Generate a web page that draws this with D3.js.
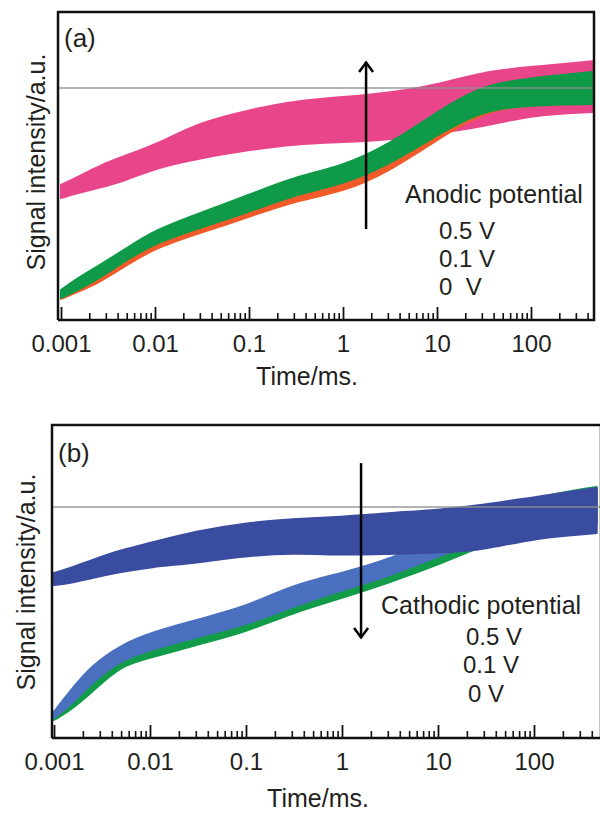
<!DOCTYPE html>
<html>
<head>
<meta charset="utf-8">
<script src="https://cdn.jsdelivr.net/npm/d3@7"></script>
<style>
  body { margin: 0; background: #fff; }
  svg text { font-family: "Liberation Sans", Arial, sans-serif; fill: #231f20; }
</style>
</head>
<body>
<svg id="chart" width="600" height="813"></svg>
<script>
// time grid (ms) shared by all traces, values in a.u. (gray line = 1)
var times = [0.001, 0.0015, 0.0025, 0.005, 0.01, 0.03, 0.1, 0.3, 1, 3, 10, 30, 100, 450];

// panel (a) anodic potential: upper / lower envelope of the noisy traces
var a05Upper = [0.582, 0.616, 0.664, 0.711, 0.754, 0.853, 0.905, 0.944, 0.961, 0.978, 1.013, 1.069, 1.091, 1.116];
var a05Lower = [0.526, 0.547, 0.569, 0.603, 0.655, 0.698, 0.733, 0.759, 0.767, 0.776, 0.806, 0.832, 0.884, 0.897];
var a01Upper = [0.129, 0.181, 0.233, 0.310, 0.388, 0.461, 0.539, 0.616, 0.664, 0.754, 0.897, 1.013, 1.043, 1.069];
var a01Lower = [0.095, 0.129, 0.177, 0.259, 0.332, 0.397, 0.466, 0.539, 0.586, 0.668, 0.797, 0.905, 0.927, 0.931];
var a0Upper  = [0.121, 0.164, 0.216, 0.293, 0.366, 0.440, 0.517, 0.586, 0.625, 0.711, 0.853, 0.983, 1.026, 1.052];
var a0Lower  = [0.091, 0.121, 0.159, 0.237, 0.310, 0.375, 0.444, 0.513, 0.552, 0.638, 0.776, 0.897, 0.931, 0.931];

// panel (b) cathodic potential
var b05Upper = [0.714, 0.736, 0.771, 0.814, 0.844, 0.896, 0.931, 0.948, 0.957, 0.974, 0.987, 1.009, 1.043, 1.082];
var b05Lower = [0.662, 0.671, 0.693, 0.719, 0.740, 0.758, 0.788, 0.801, 0.792, 0.797, 0.801, 0.814, 0.866, 0.887];
var b01Upper = [0.113, 0.208, 0.316, 0.403, 0.455, 0.511, 0.567, 0.662, 0.714, 0.771, 0.866, 0.944, 1.030, 1.074];
var b01Lower = [0.087, 0.143, 0.242, 0.338, 0.381, 0.437, 0.489, 0.567, 0.641, 0.697, 0.788, 0.857, 0.909, 0.926];
var b0Upper  = [0.113, 0.186, 0.260, 0.372, 0.411, 0.468, 0.519, 0.619, 0.662, 0.736, 0.835, 0.952, 1.043, 1.087];
var b0Lower  = [0.078, 0.121, 0.199, 0.316, 0.346, 0.403, 0.459, 0.541, 0.606, 0.671, 0.749, 0.835, 0.909, 0.935];

var tickValues = [0.001, 0.01, 0.1, 1, 10, 100];
var tickLabels = ["0.001", "0.01", "0.1", "1", "10", "100"];

var svg = d3.select("#chart");

function make_series(upper, lower, color){
    return { color: color, data: times.map(function(t, i){ return {t: t, hi: upper[i], lo: lower[i]}; }) };
}

function draw_panel(p){
    var g = svg.append("g");
    var x = d3.scaleLog().domain([0.001, p.tmax]).range([p.x0, p.right]);
    var y = d3.scaleLinear().domain([0, p.ymax]).range([p.bottom, p.top]);

    var clipId = "clip_" + p.name;
    g.append("clipPath").attr("id", clipId)
        .append("rect")
        .attr("x", p.left).attr("y", p.top)
        .attr("width", p.right - p.left).attr("height", p.bottom - p.top);

    var area = d3.area()
        .x(function(d){ return x(d.t); })
        .y0(function(d){ return y(d.lo); })
        .y1(function(d){ return y(d.hi); })
        .curve(d3.curveBasis);

    var dg = g.append("g").attr("clip-path", "url(#" + clipId + ")");
    p.series.forEach(function(s){
        dg.append("path")
            .datum(s.data)
            .attr("d", area)
            .attr("fill", s.color)
            .attr("stroke", s.color)
            .attr("stroke-width", 2)
            .attr("stroke-linejoin", "round");
    });

    // reference line at 1
    g.append("line")
        .attr("x1", p.left).attr("x2", p.right)
        .attr("y1", y(1)).attr("y2", y(1))
        .attr("stroke", "#8f8f8f").attr("stroke-width", 1.5).attr("opacity", 0.9);

    // minor ticks
    var minor = x.ticks().filter(function(d){
        return tickValues.indexOf(d) < 0 && x(d) < p.right - 2;
    });
    var mg = g.append("g")
        .attr("transform", "translate(0," + p.bottom + ")")
        .call(d3.axisBottom(x).tickValues(minor).tickSize(-7).tickSizeOuter(0).tickFormat(""));
    mg.select(".domain").remove();
    mg.selectAll("line").attr("stroke", "#111").attr("stroke-width", 1.6);

    // major ticks with labels
    var ag = g.append("g")
        .attr("transform", "translate(0," + p.bottom + ")")
        .call(d3.axisBottom(x).tickValues(tickValues).tickSize(-13).tickSizeOuter(0).tickPadding(15)
              .tickFormat(function(d, i){ return tickLabels[i]; }));
    ag.select(".domain").remove();
    ag.selectAll("line").attr("stroke", "#111").attr("stroke-width", 1.8);
    ag.selectAll("text")
        .attr("font-size", "24px")
        .attr("font-family", "'Liberation Sans', Arial, sans-serif")
        .attr("fill", "#231f20");

    // frame
    g.append("path")
        .attr("d", "M" + p.left + "," + p.bottom + "V" + p.top + "H" + p.frameRight + "V" + p.bottom + "H" + p.left)
        .attr("fill", "none").attr("stroke", "#111").attr("stroke-width", 2.5);

    // arrow
    var ax = x(p.arrow.t), ya = y(p.arrow.from), yb = y(p.arrow.to);
    var dir = yb < ya ? 1 : -1;
    g.append("line")
        .attr("x1", ax).attr("x2", ax).attr("y1", ya).attr("y2", yb)
        .attr("stroke", "#000").attr("stroke-width", 2.5);
    g.append("path")
        .attr("d", "M" + (ax - 7) + "," + (yb + dir * 10) + "L" + ax + "," + (yb + dir * 0.5) + "L" + (ax + 7) + "," + (yb + dir * 10))
        .attr("fill", "none").attr("stroke", "#000").attr("stroke-width", 2.5);

    // panel label
    g.append("text").attr("x", p.labelX).attr("y", p.labelY)
        .attr("font-size", "26px").text(p.label);

    // axis titles
    g.append("text")
        .attr("x", p.xTitle[0]).attr("y", p.xTitle[1])
        .attr("text-anchor", "middle").attr("font-size", "25px")
        .text("Time/ms.");
    g.append("text")
        .attr("transform", "translate(" + p.yTitle[0] + "," + p.yTitle[1] + ") rotate(-90)")
        .attr("text-anchor", "middle").attr("font-size", "25px")
        .text("Signal intensity/a.u.");

    // legend
    p.legend.forEach(function(l){
        g.append("text").attr("x", l[0]).attr("y", l[1])
            .attr("font-size", l[3]).style("white-space", "pre")
            .text(l[2]);
    });
}

draw_panel({
    name: "a", label: "(a)", labelX: 64, labelY: 47,
    left: 58, frameRight: 594, top: 12, bottom: 320,
    x0: 61, right: 594, tmax: 468, ymax: 1.328,
    series: [
        make_series(a05Upper, a05Lower, "#e8458b"),
        make_series(a0Upper, a0Lower, "#f15a29"),
        make_series(a01Upper, a01Lower, "#0e9a48")
    ],
    arrow: {t: 1.76, from: 0.392, to: 1.112},
    xTitle: [307, 385], yTitle: [45, 162],
    legend: [[405, 203, "Anodic potential", "25px"], [439, 239, "0.5 V", "24px"],
             [439, 267, "0.1 V", "24px"], [439, 295, "0  V", "24px"]]
});

draw_panel({
    name: "b", label: "(b)", labelX: 58, labelY: 462,
    left: 52, frameRight: 601, top: 425, bottom: 738,
    x0: 54, right: 600, tmax: 487, ymax: 1.355,
    series: [
        make_series(b0Upper, b0Lower, "#129b48"),
        make_series(b01Upper, b01Lower, "#4a70bf"),
        make_series(b05Upper, b05Lower, "#3a4c9f")
    ],
    arrow: {t: 1.58, from: 1.19, to: 0.433},
    xTitle: [318, 807], yTitle: [35, 582],
    legend: [[381, 614, "Cathodic potential", "25px"], [466, 645, "0.5 V", "24px"],
             [463, 673, "0.1 V", "24px"], [468, 702, "0 V", "24px"]]
});
</script>
</body>
</html>
